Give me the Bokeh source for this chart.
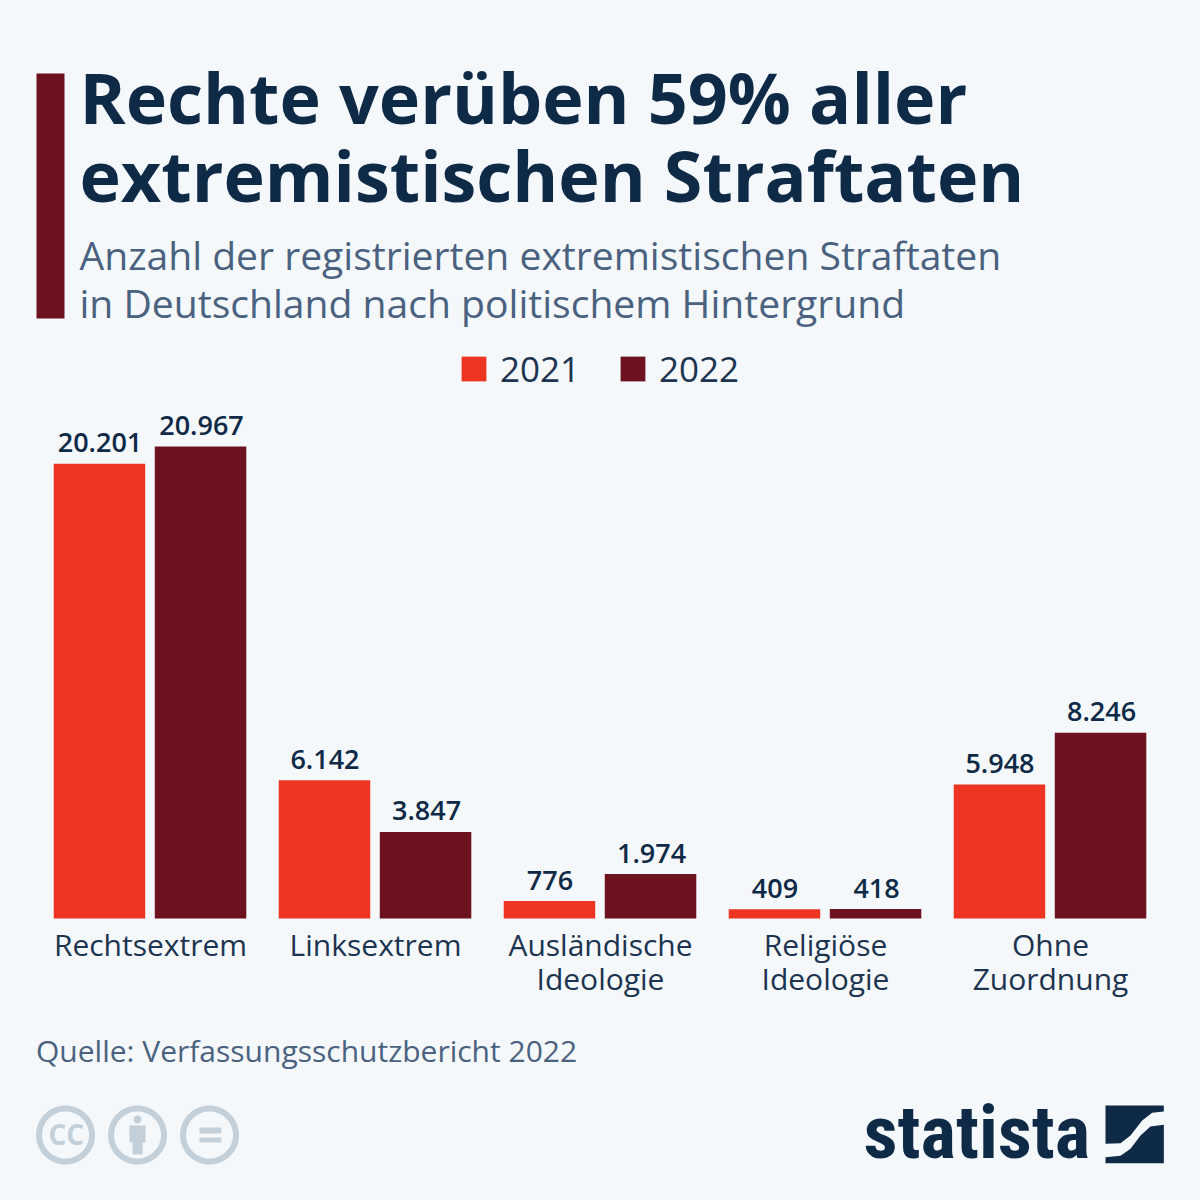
import math
from bokeh.core.properties import value
from bokeh.embed import file_html
from bokeh.resources import INLINE
from bokeh.plotting import figure
from bokeh.models import (ColumnDataSource, FactorRange, Range1d, Label, PolyAnnotation, CategoricalAxis,
                          Legend, LegendItem)
from bokeh.transform import dodge

categories = ["Rechtsextrem", "Linksextrem", "Ausländische\nIdeologie", "Religiöse\nIdeologie", "Ohne\nZuordnung"]
values_2021 = [20201, 6142, 776, 409, 5948]
values_2022 = [20967, 3847, 1974, 418, 8246]
labels_2021 = ["20.201", "6.142", "776", "409", "5.948"]
labels_2022 = ["20.967", "3.847", "1.974", "418", "8.246"]

BG = "#f4f8fb"; RED = "#ee3524"; DARK = "#6d1320"; NAVY = "#0f2a47"; SLATE = "#4a6280"; ICON = "#c3cfd9"
W = H = 1200
PX_PER_UNIT = 472 / 20967

p = figure(width=W, height=H, output_backend="svg", toolbar_location=None,
           x_range=FactorRange(factors=categories, range_padding=1/6, range_padding_units="absolute"),
           y_range=Range1d(-282 / PX_PER_UNIT, 918 / PX_PER_UNIT),
           x_axis_location=None, y_axis_location=None,
           min_border_left=0, min_border_right=0, min_border_top=0, min_border_bottom=0,
           background_fill_color=BG, border_fill_color=BG, outline_line_color=None)
p.grid.visible = False
ax = CategoricalAxis(fixed_location=1 / PX_PER_UNIT, axis_line_color=None, major_tick_line_color=None, minor_tick_line_color=None,
                     major_label_text_font="Open Sans", major_label_text_font_size="30px",
                     major_label_text_color="#1c3450", major_label_standoff=0,
                     major_label_orientation="horizontal", major_label_text_line_height=0.85)
p.add_layout(ax, "below")

src = ColumnDataSource(dict(cat=categories, a=values_2021, b=values_2022, la=labels_2021, lb=labels_2022))
OFF_A = -0.2268; OFF_B = 0.2224; BW = 0.4067
r1 = p.vbar(x=dodge("cat", OFF_A, range=p.x_range), top="a", width=BW, source=src, fill_color=RED, line_color=None)
r2 = p.vbar(x=dodge("cat", OFF_B, range=p.x_range), top="b", width=BW, source=src, fill_color=DARK, line_color=None)
for col, off, lab, dx in (("a", OFF_A, "la", 0.5), ("b", OFF_B, "lb", 1)):
    p.text(x=dodge("cat", off, range=p.x_range), y=col, text=lab, source=src, text_align="center",
           text_baseline="alphabetic", x_offset=dx, y_offset=-21, text_font=value("Open Sans SemiBold"),
           text_font_size="27px", text_color=NAVY)

leg = Legend(items=[LegendItem(label="2021", renderers=[r1]), LegendItem(label="2022", renderers=[r2])],
             orientation="horizontal", location=(458, 808), background_fill_alpha=0, border_line_color=None,
             glyph_width=31, glyph_height=31, label_text_font="Open Sans", label_text_font_size="35px",
             label_text_color="#1c3450", spacing=37, padding=0, margin=0, label_standoff=11)
p.add_layout(leg)

def X(x): return x
def Y(y): return H - y

def txt(s, x, y, size, color, style="normal", font="Open Sans"):
    p.add_layout(Label(x=X(x), y=Y(y - 0.41 * size), x_units="screen", y_units="screen", text=s, text_font=font,
                       text_font_size=f"{size}px", text_color=color, text_font_style=style,
                       text_baseline="alphabetic", text_align="left"))

txt("Rechte verüben 59% aller", 79, 125, 70, NAVY, "bold")
txt("extremistischen Straftaten", 79, 203, 70, NAVY, "bold")
txt("Anzahl der registrierten extremistischen Straftaten", 79, 270, 39.1, SLATE)
txt("in Deutschland nach politischem Hintergrund", 79, 318, 39.1, SLATE)
txt("Quelle: Verfassungsschutzbericht 2022", 35.5, 1062, 30, SLATE)
txt("statista", 863, 1162, 75,  NAVY, "bold",
    "'Open Sans ExtraCondensed','Noto Sans ExtraCondensed','Roboto Condensed','Noto Sans Condensed','Open Sans Condensed','DejaVu Sans Condensed',Roboto")

def poly(pts, color, alpha=1):
    p.add_layout(PolyAnnotation(xs=[X(a) for a, _ in pts], ys=[Y(b) for _, b in pts], xs_units="screen", ys_units="screen",
                                fill_color=color, fill_alpha=alpha, line_color=None))

def ring(cx, cy, r0, r1):
    n = 72
    out = [(cx + r1 * math.cos(2 * math.pi * i / n), cy + r1 * math.sin(2 * math.pi * i / n)) for i in range(n + 1)]
    inn = [(cx + r0 * math.cos(-2 * math.pi * i / n), cy + r0 * math.sin(-2 * math.pi * i / n)) for i in range(n + 1)]
    return out + inn

poly([(36, 73), (64, 73), (64, 318), (36, 318)], DARK)
for cx in (65, 137, 209):
    poly(ring(cx, 1134.5, 23.5, 29.5), ICON)
txt("CC", 48, 1145, 28, ICON, "bold")
poly(ring(137, 1119, 0, 4), ICON)
poly([(129, 1125), (145, 1125), (145, 1142), (142, 1142), (142, 1154), (132, 1154), (132, 1142), (129, 1142)], ICON)
poly([(199, 1127), (221, 1127), (221, 1133), (199, 1133)], ICON)
poly([(199, 1137), (221, 1137), (221, 1142), (199, 1142)], ICON)

def lg(X_, Y_): return (840 + X_ / 3, 1080 + Y_ / 3)
poly([lg(*q) for q in [(795, 75), (970, 75), (970, 93), (935, 97), (905, 120), (870, 165), (840, 188), (795, 190)]], NAVY)
poly([lg(*q) for q in [(970, 133), (970, 248), (795, 248), (795, 230), (840, 226), (870, 205), (900, 165), (930, 138)]], NAVY)

tmpl = """{% block postamble %}<style>html,body{background:#f4f8fb;margin:0;padding:0;overflow:hidden;}</style>{% endblock %}"""
open("out.html", "w").write(file_html(p, INLINE, template=tmpl))
